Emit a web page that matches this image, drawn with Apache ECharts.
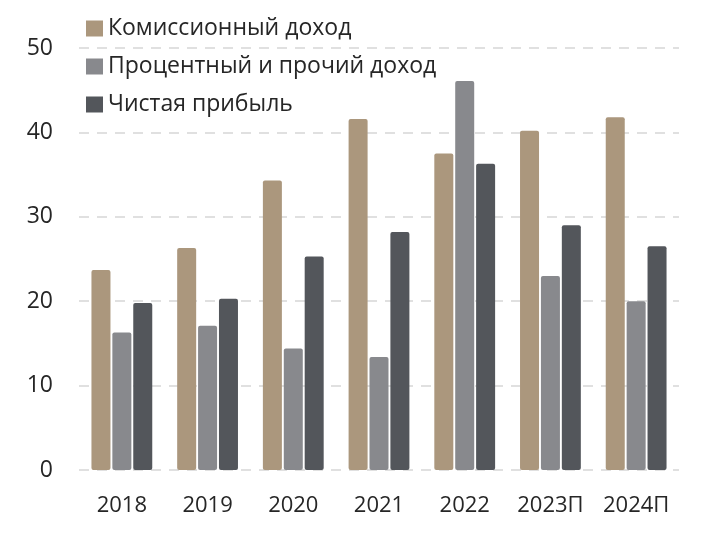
<!DOCTYPE html>
<html>
<head>
<meta charset="utf-8">
<script src="https://cdn.jsdelivr.net/npm/echarts@6/dist/echarts.min.js"></script>
<style>
html,body{margin:0;padding:0;background:#fff;}
#c{width:717px;height:533px;}
</style>
</head>
<body>
<div id="c"></div>
<script>
const categories = ['2018', '2019', '2020', '2021', '2022', '2023П', '2024П'];
const commission = [23.7, 26.3, 34.3, 41.6, 37.5, 40.2, 41.8];
const interest = [16.3, 17.1, 14.4, 13.4, 46.1, 23.0, 20.0];
const netProfit = [19.8, 20.3, 25.3, 28.2, 36.3, 29.0, 26.5];
const seriesNames = ['Комиссионный доход', 'Процентный и прочий доход', 'Чистая прибыль'];
const colors = ['#ab977d', '#88898d', '#53565b'];
const font = '"Open Sans", sans-serif';

const chart = echarts.init(document.getElementById('c'), null, {renderer: 'canvas'});
chart.setOption({
  animation: false,
  backgroundColor: '#ffffff',
  color: colors,
  grid: {left: 79, right: 38, top: 48, bottom: 63, containLabel: false},
  legend: {
    orient: 'vertical',
    left: 81,
    top: 12,
    itemWidth: 17,
    itemHeight: 16,
    itemGap: 15,
    icon: 'rect',
    textStyle: {fontFamily: font, fontSize: 23, color: '#262626'},
    data: seriesNames
  },
  xAxis: {
    type: 'category',
    data: categories,
    axisLine: {show: false},
    axisTick: {show: false},
    axisLabel: {interval: 0, hideOverlap: false, fontFamily: font, fontSize: 22, color: '#262626', margin: 25}
  },
  yAxis: {
    type: 'value',
    min: 0,
    max: 50,
    interval: 10,
    axisLine: {show: false},
    axisTick: {show: false},
    axisLabel: {fontFamily: font, fontSize: 23, color: '#262626', margin: 26},
    splitLine: {lineStyle: {color: '#e0e0e0', width: 2, type: [10, 8]}}
  },
  series: [
    {name: seriesNames[0], type: 'bar', data: commission, barWidth: 19, barGap: '10%', barCategoryGap: '29%', itemStyle: {borderRadius: 2}},
    {name: seriesNames[1], type: 'bar', data: interest, barWidth: 19, barGap: '10%', itemStyle: {borderRadius: 2}},
    {name: seriesNames[2], type: 'bar', data: netProfit, barWidth: 19, barGap: '10%', itemStyle: {borderRadius: 2}}
  ]
});
</script>
</body>
</html>
